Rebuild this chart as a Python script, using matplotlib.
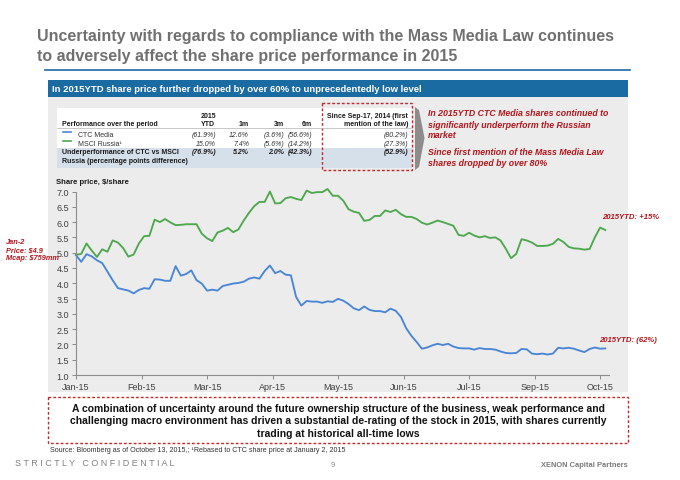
import numpy as np
import pandas as pd
import matplotlib
matplotlib.use('Agg')
import matplotlib.pyplot as plt
from matplotlib.patches import Rectangle, Polygon

plt.rcParams['font.family'] = ['Liberation Sans', 'DejaVu Sans']

# ---------------- data ----------------
trading_days = pd.bdate_range('2015-01-02', '2015-10-13')
sample_step = 2
ctc_price = [4.92, 4.70, 4.95, 4.88, 4.75, 4.66, 4.38, 4.10, 3.84, 3.80,
             3.76, 3.67, 3.78, 3.84, 3.82, 4.13, 4.12, 4.08, 4.08, 4.56,
             4.25, 4.30, 4.42, 4.10, 3.99, 3.76, 3.79, 3.76, 3.91, 3.95,
             3.99, 4.01, 4.05, 4.15, 4.19, 4.15, 4.40, 4.58, 4.33, 4.40,
             4.28, 4.26, 3.55, 3.27, 3.42, 3.40, 3.40, 3.36, 3.41, 3.39,
             3.49, 3.43, 3.32, 3.18, 3.12, 3.24, 3.13, 3.09, 3.09, 3.05,
             3.17, 3.10, 2.90, 2.53, 2.28, 2.08, 1.86, 1.90, 1.97, 2.02,
             1.98, 2.02, 1.93, 1.88, 1.87, 1.87, 1.83, 1.88, 1.85, 1.85,
             1.83, 1.77, 1.72, 1.71, 1.72, 1.85, 1.84, 1.70, 1.68, 1.70,
             1.67, 1.70, 1.89, 1.87, 1.89, 1.86, 1.80, 1.75, 1.85, 1.90,
             1.86, 1.87]
msci_rebased = [4.93, 4.96, 5.30, 5.07, 4.86, 5.11, 5.03, 5.40, 5.33, 5.15,
                4.87, 4.94, 5.30, 5.54, 5.55, 6.08, 6.00, 6.10, 5.99, 5.90,
                5.91, 5.93, 5.93, 5.93, 5.62, 5.47, 5.38, 5.66, 5.72, 5.81,
                5.67, 5.76, 6.05, 6.30, 6.52, 6.66, 6.66, 7.00, 6.61, 6.62,
                6.78, 6.82, 6.76, 6.72, 7.03, 6.95, 6.98, 6.98, 7.08, 6.86,
                6.86, 6.70, 6.42, 6.34, 6.30, 6.04, 6.07, 6.20, 6.20, 6.38,
                6.33, 6.40, 6.26, 6.17, 6.17, 6.10, 5.98, 5.92, 5.98, 6.05,
                6.00, 5.94, 5.88, 5.58, 5.55, 5.65, 5.56, 5.50, 5.54, 5.48,
                5.50, 5.40, 5.13, 4.82, 4.96, 5.44, 5.40, 5.33, 5.22, 5.22,
                5.23, 5.29, 5.45, 5.35, 5.19, 5.14, 5.13, 5.10, 5.12, 5.50,
                5.82, 5.74]
tick_labels = ['Jan-15', 'Feb-15', 'Mar-15', 'Apr-15', 'May-15',
               'Jun-15', 'Jul-15', 'Sep-15', 'Oct-15']
tick_every = 25
y_ticks = [1.0, 1.5, 2.0, 2.5, 3.0, 3.5, 4.0, 4.5, 5.0, 5.5, 6.0, 6.5, 7.0]

table_cols = ['2015\nYTD', '1m', '3m', '6m', 'Since Sep-17, 2014 (first\nmention of the law)']
ctc_perf = ['(61.9%)', '12.6%', '(3.6%)', '(56.6%)', '(80.2%)']
msci_perf = ['15.0%', '7.4%', '(5.6%)', '(14.2%)', '(27.3%)']
under_perf = ['(76.9%)', '5.2%', '2.0%', '(42.3%)', '(52.9%)']

# ---------------- figure ----------------
W, H = 680, 481
fig = plt.figure(figsize=(6.8, 4.81), dpi=100)
fig.patch.set_facecolor('white')

def frac(x0, y0, x1, y1):
    return [x0 / W, 1 - y1 / H, (x1 - x0) / W, (y1 - y0) / H]

bg = fig.add_axes([0, 0, 1, 1], zorder=0)
bg.set_xlim(0, W); bg.set_ylim(H, 0); bg.axis('off')

RED = '#b3161c'
GRAY_T = '#707070'

# title
bg.text(37, 36.5, 'Uncertainty with regards to compliance with the Mass Media Law continues',
        fontsize=11.5, fontweight='bold', color=GRAY_T, va='center', ha='left')
bg.text(37, 56.5, 'to adversely affect the share price performance in 2015',
        fontsize=11.5, fontweight='bold', color=GRAY_T, va='center', ha='left')
bg.plot([45, 630], [70.5, 70.5], color='#1f6aa5', lw=1.2)

# banner
bg.add_patch(Rectangle((48, 81), 580, 17, color='#1b6ba3', lw=0))
bg.text(52, 89.5, 'In 2015YTD share price further dropped by over 60% to unprecedentedly low level',
        fontsize=6.8, fontweight='bold', color='white', va='center', ha='left')

# gray panel
bg.add_patch(Rectangle((48, 98), 580, 295, color='#ececec', lw=0))

# table
bg.add_patch(Rectangle((57, 109), 355, 60, color='white', lw=0))
bg.add_patch(Rectangle((57, 149), 355, 20, color='#d6e0eb', lw=0))
bg.plot([57, 412], [129, 129], color='#bfbfbf', lw=0.6)
bg.add_patch(Rectangle((322, 104), 90, 66.5, fill=False, ec='#c8262c', lw=1.0,
                       ls=(0, (2, 1.5))))
TF = 5.0
bg.text(62, 124.5, 'Performance over the period', fontsize=TF, fontweight='bold',
        va='center', ha='left', color='#1a1a1a')
col_right = [216, 249, 284, 312, 408]
for i, c in enumerate(table_cols):
    if '\n' in c:
        bg.text(col_right[i], 120.5, c, fontsize=TF, fontweight='bold', va='center',
                ha='right', multialignment='right' if i == 4 else 'center',
                linespacing=1.25, color='#1a1a1a')
    else:
        bg.text(col_right[i], 124.5, c, fontsize=TF, fontweight='bold', va='center',
                ha='right', color='#1a1a1a')
bg.plot([63, 71], [133, 133], color='#4a86d6', lw=1.2)
bg.plot([63, 71], [141.5, 141.5], color='#4ea84e', lw=1.2)
bg.text(78, 136, 'CTC Media', fontsize=TF, va='center', ha='left', color='#333333')
bg.text(78, 144.5, 'MSCI Russia\u00b9', fontsize=TF, va='center', ha='left', color='#333333')
bg.text(62, 152.5, 'Underperformance of CTC vs MSCI', fontsize=TF, fontweight='bold',
        va='center', ha='left', color='#1a1a1a')
bg.text(62, 161.5, 'Russia (percentage points difference)', fontsize=TF, fontweight='bold',
        va='center', ha='left', color='#1a1a1a')
for i in range(5):
    bg.text(col_right[i], 136, ctc_perf[i], fontsize=TF, style='italic', va='center',
            ha='right', color='#333333')
    bg.text(col_right[i], 144.5, msci_perf[i], fontsize=TF, style='italic', va='center',
            ha='right', color='#333333')
    bg.text(col_right[i], 152.5, under_perf[i], fontsize=TF, style='italic',
            fontweight='bold', va='center', ha='right', color='#1a1a1a')

# chevron
bg.add_patch(Polygon([[415, 108], [419, 111], [424.5, 139], [419, 168], [415, 171]],
                     closed=True, color='#8c8c8c', lw=0))

# right commentary
rt = ['In 2015YTD CTC Media shares continued to',
      'significantly underperform the Russian',
      'market']
for k, s in enumerate(rt):
    bg.text(428, 114 + 11 * k, s, fontsize=6.3, fontweight='bold', style='italic',
            color=RED, va='center', ha='left')
rt2 = ['Since first mention of the Mass Media Law',
       'shares dropped by over 80%']
for k, s in enumerate(rt2):
    bg.text(428, 153 + 11 * k, s, fontsize=6.3, fontweight='bold', style='italic',
            color=RED, va='center', ha='left')

bg.text(56, 182.5, 'Share price, $/share', fontsize=5.5, fontweight='bold',
        va='center', ha='left', color='#1a1a1a')

# bottom box
bg.add_patch(Rectangle((48, 398), 580, 46, fill=False, ec='#c8262c', lw=1.0,
                       ls=(0, (2, 1.5))))
bg.text(338, 421.5, 'A combination of uncertainty around the future ownership structure of the business, weak performance and\n'
        'challenging macro environment has driven a substantial de-rating of the stock in 2015, with shares currently\n'
        'trading at historical all-time lows',
        fontsize=7.5, fontweight='bold', ha='center', va='center', linespacing=1.3,
        color='#111111')

bg.text(50, 450.5, 'Source: Bloomberg as of October 13, 2015,; \u00b9Rebased to CTC share price at January 2, 2015',
        fontsize=5.1, va='center', ha='left', color='#333333')
bg.text(15, 464, 'S T R I C T L Y   C O N F I D E N T I A L', fontsize=6.5,
        va='center', ha='left', color='#808080')
bg.text(333, 465.5, '9', fontsize=5.5, va='center', ha='center', color='#8c8c8c')
bg.text(628, 465.5, 'XENON Capital Partners', fontsize=5.4, fontweight='bold',
        va='center', ha='right', color='#7a7a7a')

# ---------------- chart ----------------
ax = fig.add_axes(frac(76, 192.5, 609, 376), zorder=1)
ax.patch.set_alpha(0)
x = np.arange(0, len(trading_days), sample_step)
ax.plot(x, msci_rebased, color='#4ea84e', lw=1.35, clip_on=False, solid_joinstyle='round')
ax.plot(x, ctc_price, color='#4a86d6', lw=1.35, clip_on=False, solid_joinstyle='round')
ax.set_xlim(0, 203.4)
ax.set_ylim(1.0, 7.0)
ax.set_xticks(np.arange(0, len(trading_days), tick_every))
ax.set_xticklabels(tick_labels)
ax.set_yticks(y_ticks)
ax.set_yticklabels(['%.1f' % v for v in y_ticks])
for s in ['top', 'right']:
    ax.spines[s].set_visible(False)
for s in ['left', 'bottom']:
    ax.spines[s].set_color('#8c8c8c')
    ax.spines[s].set_linewidth(0.8)
ax.tick_params(axis='both', colors='#8c8c8c', length=3, width=0.7, labelsize=6.5,
               labelcolor='#404040', pad=2)
ax.tick_params(axis='x', pad=2)

# ---------------- foreground annotations ----------------
fg = fig.add_axes([0, 0, 1, 1], zorder=2)
fg.set_xlim(0, W); fg.set_ylim(H, 0); fg.axis('off')
for k, s in enumerate(['Jan-2', 'Price: $4.9', 'Mcap: $759mm']):
    fg.text(6, 243 + 8 * k, s, fontsize=5.3, fontweight='bold', style='italic',
            color=RED, va='center', ha='left')
fg.text(602, 218, '2015YTD: +15%', fontsize=5.6, fontweight='bold', style='italic',
        color=RED, va='center', ha='left')
fg.text(599, 341, '2015YTD: (62%)', fontsize=5.6, fontweight='bold', style='italic',
        color=RED, va='center', ha='left')

fig.savefig('out.png', dpi=100)
